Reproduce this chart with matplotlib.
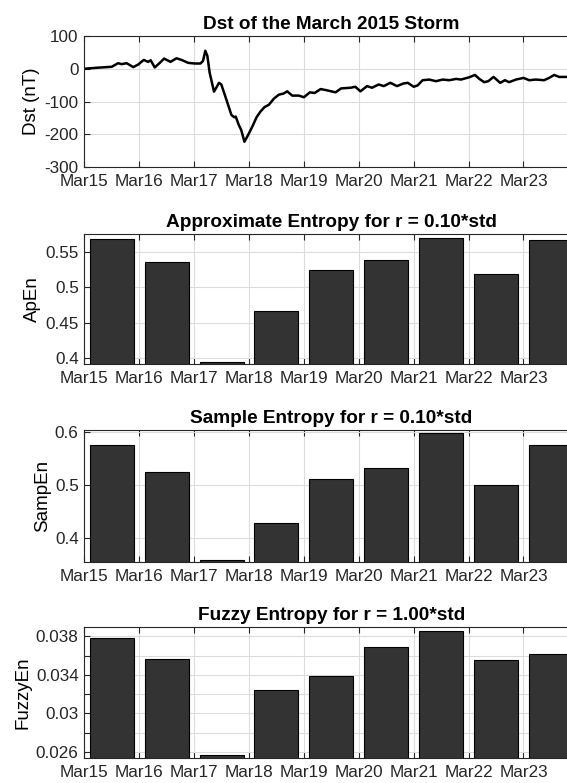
import matplotlib
matplotlib.use('Agg')
import matplotlib.pyplot as plt

plt.rcParams['font.family'] = ['Liberation Sans', 'DejaVu Sans']

# Dst readings (hours since Mar15 00:00, nT)
dst_hours = [0, 5.4, 12, 14.8, 16.3, 18.5, 21.4, 23.6, 26, 27.9, 29, 30.8, 33, 34.9,
             37.7, 40.3, 42.5, 45.4, 48.3, 50.8, 51.9, 52.9, 53.8, 54.8, 56.7, 58.9,
             59.9, 62.1, 64.3, 65.5, 66.2, 67.5, 68.6, 70.0, 72, 73.5, 75.3, 77.1,
             78.8, 80.7, 82.9, 85.1, 87, 88.7, 90.9, 93.8, 96, 98.6, 100.7, 103.3,
             106.2, 109.8, 112.3, 116.4, 118.5, 120.7, 123.6, 125.8, 128.7, 130.9,
             133.8, 136.7, 139.5, 141.4, 144, 145.7, 147.9, 150.8, 153.7, 156.7,
             159.6, 162.5, 164.7, 168.3, 170.8, 172.7, 174.8, 176.6, 178.9, 181.8,
             183.9, 185.7, 188.7, 192, 194.5, 197.4, 201, 203.2, 205.4, 207.6, 211.2]
dst_values = [0, 3, 6, 17, 14, 17, 5, 13, 27, 21, 26, 4, 18, 31,
              21, 32, 27, 18, 16, 16, 24, 55, 39, -12, -70, -43,
              -48, -94, -141, -148, -146, -171, -187, -223, -197, -176, -148, -130,
              -117, -110, -91, -79, -76, -69, -82, -82, -87, -72, -74, -62,
              -66, -72, -60, -58, -55, -69, -53, -58, -48, -53,
              -43, -53, -45, -43, -55, -51, -35, -33, -38, -33,
              -35, -31, -33, -26, -19, -31, -41, -38, -25, -43,
              -35, -41, -33, -28, -35, -33, -35, -28, -19, -25, -25]

day_labels = ['Mar15', 'Mar16', 'Mar17', 'Mar18', 'Mar19', 'Mar20', 'Mar21', 'Mar22', 'Mar23']

apen = [0.569, 0.536, 0.394, 0.466, 0.525, 0.539, 0.570, 0.519, 0.567]
sampen = [0.5756, 0.524, 0.359, 0.429, 0.511, 0.5325, 0.5975, 0.500, 0.574]
fuzzyen = [0.03786, 0.03561, 0.02569, 0.03239, 0.0339, 0.03684, 0.03858, 0.03551, 0.03615]

fig = plt.figure(figsize=(5.67, 7.83), dpi=100)

W, H = 567.0, 783.0
left = 84.3 / W
width = (84.3 + 9 * 54.9) / W - left
boxes = [(36, 167), (234, 364), (430, 562), (627, 758)]
axes = []
for top, bot in boxes:
    axes.append(fig.add_axes([left, 1 - bot / H, width, (bot - top) / H]))

tick_days = list(range(len(day_labels)))


def style(ax):
    ax.set_xlim(0, 9)
    ax.set_xticks(tick_days)
    ax.set_xticklabels(day_labels)
    ax.tick_params(direction='in', length=4, width=0.8, labelsize=12.3,
                   top=True, right=True, colors='#262626')
    ax.tick_params(axis='x', pad=5)
    ax.tick_params(axis='y', pad=4)
    ax.grid(True, color='#dcdcdc', linewidth=0.8)
    ax.set_axisbelow(True)
    for s in ax.spines.values():
        s.set_color('#262626')
        s.set_linewidth(0.8)


# Dst time series
ax = axes[0]
ax.plot([h / 24.0 for h in dst_hours], dst_values, color='black', linewidth=1.8)
ax.set_ylim(-300, 100)
ax.set_yticks([-300, -200, -100, 0, 100])
ax.set_yticklabels(['-300', '-200', '-100', '0', '100'])
ax.set_ylabel('Dst (nT)', fontsize=13.5, labelpad=3)
ax.set_title('Dst of the March 2015 Storm', fontsize=13.7, fontweight='bold', pad=5)
style(ax)

bar_x = [d + 0.5 for d in tick_days]
panels = [
    (apen, 'ApEn', 'Approximate Entropy for r = 0.10*std', (0.391, 0.576),
     [0.4, 0.45, 0.5, 0.55], ['0.4', '0.45', '0.5', '0.55']),
    (sampen, 'SampEn', 'Sample Entropy for r = 0.10*std', (0.355, 0.603),
     [0.4, 0.5, 0.6], ['0.4', '0.5', '0.6']),
    (fuzzyen, 'FuzzyEn', 'Fuzzy Entropy for r = 1.00*std', (0.02538, 0.03896),
     [0.026, 0.028, 0.030, 0.032, 0.034, 0.036, 0.038],
     ['0.026', '', '0.03', '', '0.034', '', '0.038']),
]

for ax, (vals, ylab, title, ylim, yt, ytl) in zip(axes[1:], panels):
    ax.bar(bar_x, vals, width=0.8, color='#333333', edgecolor='black', linewidth=0.8)
    ax.set_ylim(*ylim)
    ax.set_yticks(yt)
    ax.set_yticklabels(ytl)
    ax.set_ylabel(ylab, fontsize=13.5, labelpad=3)
    ax.set_title(title, fontsize=13.7, fontweight='bold', pad=5)
    style(ax)

fig.savefig('out.png', dpi=100)
